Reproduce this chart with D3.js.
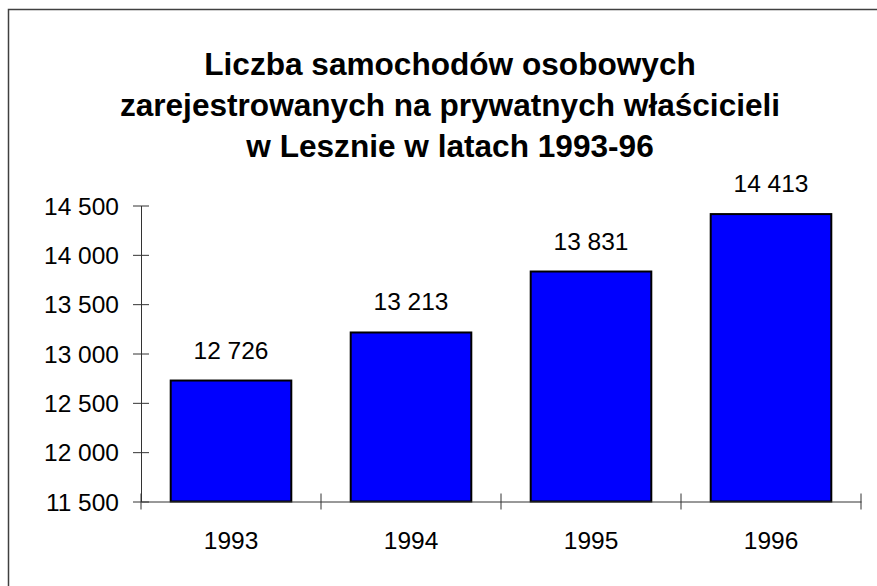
<!DOCTYPE html>
<html>
<head>
<meta charset="utf-8">
<script src="https://cdn.jsdelivr.net/npm/d3@7"></script>
<style>
  body { margin: 0; background: #fff; }
  svg { display: block; font-family: Arial, "Liberation Sans", sans-serif; }
</style>
</head>
<body>
<div id="chart"></div>
<script>
// data
const years = ["1993", "1994", "1995", "1996"];
const cars = [12726, 13213, 13831, 14413];
const yTicks = [11500, 12000, 12500, 13000, 13500, 14000, 14500];
const titleLines = [
  "Liczba samochodów osobowych",
  "zarejestrowanych na prywatnych właścicieli",
  "w Lesznie w latach 1993-96"
];

var width = 877, height = 586;
var margin = {left: 141, right: 16, top: 205.5, bottom: 84.5};

// polish style numbers: 12 726
var pl = d3.formatLocale({decimal: ",", thousands: " ", grouping: [3], currency: ["", ""]});
var fmt = pl.format(",");

var svg = d3.select("#chart")
  .append("svg")
  .attr("width", width)
  .attr("height", height);

// frame, runs off the right and bottom edge
svg.append("rect")
  .attr("x", 8.5).attr("y", 9.5)
  .attr("width", 900).attr("height", 600)
  .attr("fill", "#fff")
  .attr("stroke", "#404040")
  .attr("stroke-width", 1.5);

// title
svg.append("text")
  .attr("text-anchor", "middle")
  .attr("font-weight", "bold")
  .attr("font-size", 31.6)
  .attr("fill", "#000")
  .selectAll("tspan")
  .data(titleLines)
  .enter()
  .append("tspan")
  .attr("x", 450)
  .attr("y", function(d, i){ return 74.7 + i * 41.2; })
  .text(function(d){ return d; });

var x = d3.scaleBand()
  .domain(years)
  .range([margin.left, width - margin.right])
  .padding(0);

var y = d3.scaleLinear()
  .domain([11500, 14500])
  .range([height - margin.bottom, margin.top]);

var barW = x.bandwidth() * 0.67;

// bars
svg.selectAll(".bar")
  .data(cars)
  .enter()
  .append("rect")
  .attr("class", "bar")
  .attr("x", function(d, i){ return x(years[i]) + (x.bandwidth() - barW) / 2; })
  .attr("y", function(d){ return y(d); })
  .attr("width", barW)
  .attr("height", function(d){ return y(11500) - y(d); })
  .attr("fill", "#0000ff")
  .attr("stroke", "#000")
  .attr("stroke-width", 2);

// value labels
svg.selectAll(".val")
  .data(cars)
  .enter()
  .append("text")
  .attr("class", "val")
  .attr("x", function(d, i){ return x(years[i]) + x.bandwidth() / 2; })
  .attr("y", function(d){ return y(d) - 22; })
  .attr("text-anchor", "middle")
  .attr("font-size", 24.5)
  .attr("fill", "#000")
  .text(function(d){ return fmt(d); });

// y axis, ticks cross the line
var yAxis = svg.append("g")
  .attr("transform", "translate(" + margin.left + ",0)")
  .call(d3.axisLeft(y).tickValues(yTicks).tickFormat(fmt).tickSize(8).tickSizeOuter(0).tickPadding(14));
yAxis.select(".domain").attr("stroke", "#333");
yAxis.selectAll(".tick line").attr("x1", 8).attr("stroke", "#333");
yAxis.selectAll(".tick text")
  .attr("font-size", 24.5)
  .attr("font-family", "Arial, 'Liberation Sans', sans-serif")
  .attr("fill", "#000")
  .attr("dy", "0.35em");

// x axis: labels under the bars, ticks at band edges
var xAxis = svg.append("g")
  .attr("transform", "translate(0," + y(11500) + ")")
  .call(d3.axisBottom(x).tickSize(0).tickSizeOuter(0));
xAxis.select(".domain").attr("stroke", "#333");
xAxis.selectAll(".tick text")
  .attr("font-size", 24.5)
  .attr("font-family", "Arial, 'Liberation Sans', sans-serif")
  .attr("fill", "#000")
  .attr("y", 47.5)
  .attr("dy", 0);

var edges = [x.range()[0]].concat(years.map(function(d){ return x(d) + x.bandwidth(); }));
xAxis.selectAll(".edge")
  .data(edges)
  .enter()
  .append("line")
  .attr("class", "edge")
  .attr("x1", function(d){ return d; })
  .attr("x2", function(d){ return d; })
  .attr("y1", -8)
  .attr("y2", 8)
  .attr("stroke", "#333");
</script>
</body>
</html>
